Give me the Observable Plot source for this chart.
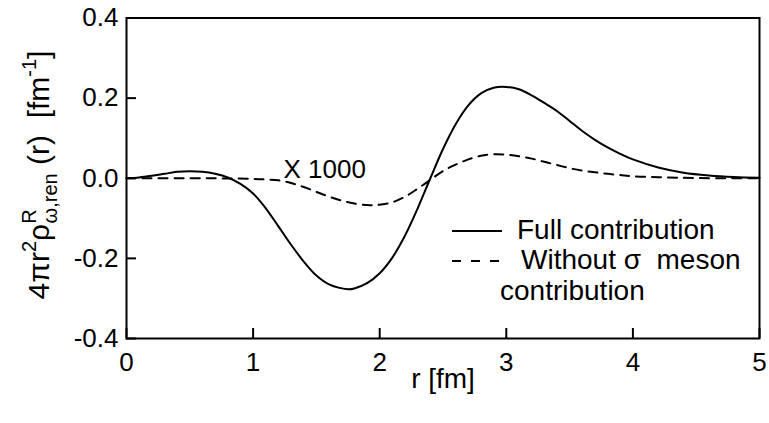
<!DOCTYPE html>
<html>
<head>
<meta charset="utf-8">
<script src="https://cdn.jsdelivr.net/npm/d3@7"></script>
<script src="https://cdn.jsdelivr.net/npm/@observablehq/plot@0.6"></script>
<style>
  html, body { margin: 0; padding: 0; background: white; }
</style>
</head>
<body>
<div id="chart"></div>
<script>
// Full contribution
const fullR   = [0, 0.1, 0.2, 0.3, 0.4, 0.5, 0.6, 0.7, 0.8, 0.9, 1.0, 1.1, 1.2, 1.3, 1.4, 1.5, 1.6, 1.75, 1.8, 1.9, 2.0, 2.1, 2.2, 2.3, 2.4, 2.5, 2.6, 2.7, 2.8, 2.9, 3.0, 3.1, 3.2, 3.3, 3.4, 3.5, 3.6, 3.7, 3.8, 3.9, 4.0, 4.2, 4.4, 4.6, 4.8, 5.0];
const fullV   = [0, 0.002, 0.006, 0.011, 0.016, 0.0175, 0.016, 0.011, 0.002, -0.014, -0.038, -0.075, -0.12, -0.166, -0.208, -0.243, -0.265, -0.277, -0.275, -0.262, -0.237, -0.198, -0.143, -0.075, 0.0, 0.073, 0.135, 0.182, 0.212, 0.226, 0.228, 0.222, 0.207, 0.188, 0.168, 0.143, 0.118, 0.096, 0.077, 0.061, 0.047, 0.027, 0.014, 0.007, 0.003, 0.001];
// Without sigma meson contribution (x 1000)
const dashR   = [0, 0.5, 0.8, 1.0, 1.1, 1.2, 1.3, 1.4, 1.5, 1.6, 1.7, 1.8, 1.9, 1.95, 2.0, 2.1, 2.2, 2.3, 2.4, 2.5, 2.6, 2.7, 2.8, 2.9, 3.0, 3.1, 3.2, 3.3, 3.4, 3.5, 3.6, 3.7, 3.8, 3.9, 4.0, 4.2, 4.5, 5.0];
const dashV   = [0, 0, -0.0005, -0.0015, -0.003, -0.005, -0.012, -0.022, -0.034, -0.046, -0.056, -0.063, -0.067, -0.0675, -0.066, -0.06, -0.046, -0.026, -0.004, 0.018, 0.034, 0.047, 0.056, 0.06, 0.059, 0.055, 0.049, 0.041, 0.033, 0.025, 0.019, 0.015, 0.011, 0.008, 0.005, 0.0025, 0.0005, 0];

const xTicks = [0, 1, 2, 3, 4, 5];
const yTicks = [-0.4, -0.2, 0.0, 0.2, 0.4];
const xLabel = "r [fm]";
const annotation = [{r: 1.24, v: 0.0, text: "X 1000"}];
const legendLabels = ["Full contribution", "Without \u03C3  meson", "contribution"];

const full = fullR.map((r, i) => ({r, v: fullV[i]}));
const dashed = dashR.map((r, i) => ({r, v: dashV[i]}));

const W = 769, H = 423;
const mL = 126, mR = 10, mT = 17.5, mB = 85;
const plotH = H - mT - mB, plotW = W - mL - mR;
const font = "'Liberation Sans', Arial, Helvetica, sans-serif";

const chart = Plot.plot({
  width: W, height: H,
  marginLeft: mL, marginRight: mR, marginTop: mT, marginBottom: mB,
  x: {domain: [0, 5]},
  y: {domain: [-0.4, 0.4]},
  style: {fontFamily: font, fontSize: "26px", background: "white", color: "black", overflow: "visible"},
  marks: [
    Plot.tickX(xTicks, {x: d => d, insetTop: plotH - 10, strokeWidth: 2, stroke: "black"}),
    Plot.tickY(yTicks, {y: d => d, insetRight: plotW - 10, strokeWidth: 2, stroke: "black"}),
    Plot.axisX(xTicks, {tickSize: 0, tickPadding: 14.5, tickFormat: d => String(d), label: null, fontSize: 26}),
    Plot.axisY(yTicks, {tickSize: 0, tickPadding: 8, tickFormat: d => d.toFixed(1), label: null, fontSize: 26}),
    Plot.line(dashed, {x: "r", y: "v", curve: "catmull-rom", stroke: "black", strokeWidth: 2, strokeDasharray: "9,7"}),
    Plot.line(full, {x: "r", y: "v", curve: "catmull-rom", stroke: "black", strokeWidth: 2}),
    Plot.text(annotation, {x: "r", y: "v", text: "text", textAnchor: "start", lineAnchor: "bottom", fontSize: 26}),
    Plot.text([xLabel], {frameAnchor: "bottom", dy: 49, lineAnchor: "bottom", textAnchor: "middle", fontSize: 28}),
    Plot.frame({stroke: "black", strokeWidth: 2})
  ]
});

document.getElementById("chart").appendChild(chart);

const svg = d3.select(chart);

// Y axis label with super/subscripts
const yl = svg.append("text")
  .attr("transform", "translate(49,175) rotate(-90)")
  .attr("text-anchor", "middle")
  .attr("font-family", font)
  .attr("font-size", 30)
  .attr("fill", "black")
  .style("white-space", "pre");
yl.append("tspan").text("4\u03C0r");
yl.append("tspan").attr("font-size", 20).attr("dy", -13).text("2");
yl.append("tspan").attr("dy", 13).text("\u03C1");
yl.append("tspan").attr("font-size", 20).attr("dy", -13).text("R");
yl.append("tspan").attr("font-size", 20).attr("dx", -14).attr("dy", 21).text("\u03C9,ren");
yl.append("tspan").attr("dy", -8).text(" (r)  [fm");
yl.append("tspan").attr("font-size", 20).attr("dy", -13).text("-1");
yl.append("tspan").attr("dy", 13).text("]");

// Legend
const lg = svg.append("g").attr("font-family", font).attr("font-size", 28).attr("fill", "black")
  .attr("text-anchor", "start");
lg.append("line").attr("x1", 452).attr("x2", 502).attr("y1", 231).attr("y2", 231)
  .attr("stroke", "black").attr("stroke-width", 2);
lg.append("text").attr("text-anchor", "start").attr("x", 517).attr("y", 239).text(legendLabels[0]);
lg.append("line").attr("x1", 452).attr("x2", 501).attr("y1", 261).attr("y2", 261)
  .attr("stroke", "black").attr("stroke-width", 2).attr("stroke-dasharray", "9,10");
lg.append("text").attr("text-anchor", "start").attr("x", 521).attr("y", 269).style("white-space", "pre").text(legendLabels[1]);
lg.append("text").attr("text-anchor", "start").attr("x", 500).attr("y", 300).text(legendLabels[2]);
</script>
</body>
</html>
